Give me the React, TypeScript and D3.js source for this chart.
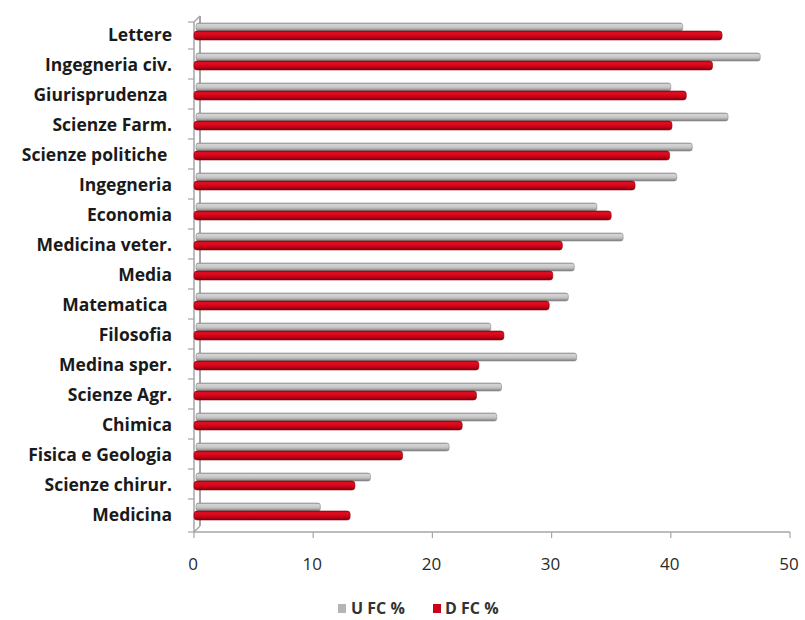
import React from 'react';
import * as d3 from 'd3';

const categories = [
  'Lettere', 'Ingegneria civ.', 'Giurisprudenza ', 'Scienze Farm.', 'Scienze politiche ',
  'Ingegneria', 'Economia', 'Medicina veter.', 'Media', 'Matematica ', 'Filosofia',
  'Medina sper.', 'Scienze Agr.', 'Chimica', 'Fisica e Geologia', 'Scienze chirur.', 'Medicina',
];
const uValues = [41.0, 47.5, 40.0, 44.8, 41.8, 40.5, 33.8, 36.0, 31.9, 31.4, 24.9, 32.1, 25.8, 25.4, 21.4, 14.8, 10.6];
const dValues = [44.3, 43.5, 41.3, 40.1, 39.9, 37.0, 35.0, 30.9, 30.1, 29.8, 26.0, 23.9, 23.7, 22.5, 17.5, 13.5, 13.1];
const xTicks = [0, 10, 20, 30, 40, 50];
const seriesNames = ['U FC %', 'D FC %'];

const W = 805;
const H = 620;
const FONT = "'Open Sans', sans-serif";

export default function App() {
  const x = d3.scaleLinear().domain([0, 50]).range([194, 790]);
  const y = d3.scaleBand<string>().domain(categories).range([19, 529]);
  const bw = y.bandwidth();

  return (
    <svg width={W} height={H} style={{ position: 'absolute', left: 0, top: 0, background: '#fff' }}>
      <defs>
        <linearGradient id="gGray" x1="0" y1="0" x2="0" y2="1">
          <stop offset="0" stopColor="#9a9a9a" />
          <stop offset="0.2" stopColor="#d6d6d6" />
          <stop offset="0.6" stopColor="#c2c2c2" />
          <stop offset="1" stopColor="#7a7a7a" />
        </linearGradient>
        <linearGradient id="gRed" x1="0" y1="0" x2="0" y2="1">
          <stop offset="0" stopColor="#a8000e" />
          <stop offset="0.2" stopColor="#e2101f" />
          <stop offset="0.6" stopColor="#d0001a" />
          <stop offset="1" stopColor="#7a0008" />
        </linearGradient>
      </defs>

      {/* back wall */}
      <line x1={200} x2={200} y1={16} y2={526} stroke="#a6a6a6" strokeWidth={2} />
      <line x1={194} x2={200} y1={22} y2={16} stroke="#a6a6a6" strokeWidth={1.5} />
      <line x1={194} x2={200} y1={532} y2={526} stroke="#a6a6a6" strokeWidth={1.5} />
      {/* left axis */}
      <line x1={194} x2={194} y1={22} y2={532} stroke="#a6a6a6" strokeWidth={1.5} />
      {categories.map((c, i) => (
        <line key={'yt' + i} x1={188} x2={194} y1={(y(c) as number) + (i === 0 ? 3 : 0)} y2={(y(c) as number) + (i === 0 ? 3 : 0)} stroke="#a6a6a6" strokeWidth={1.2} />
      ))}
      <line x1={188} x2={194} y1={532} y2={532} stroke="#a6a6a6" strokeWidth={1.2} />
      {/* bottom axis */}
      <line x1={194} x2={790} y1={532} y2={532} stroke="#a6a6a6" strokeWidth={1.5} />
      {xTicks.map(t => (
        <g key={'xt' + t}>
          <line x1={x(t)} x2={x(t)} y1={532} y2={538} stroke="#a6a6a6" strokeWidth={1.2} />
          <text x={x(t) - 1} y={570} textAnchor="middle" fontFamily={FONT} fontWeight={500} fontSize={17} fill="#2a2a2a">{t}</text>
        </g>
      ))}

      {/* bars */}
      {categories.map((c, i) => {
        const top = y(c) as number;
        return (
          <g key={c}>
            <rect x={x(0) + 2} y={top + 4} width={x(uValues[i]) - x(0) - 2} height={8} rx={2.5}
              fill="url(#gGray)" stroke="#8a8a8a" strokeWidth={0.6} />
            <rect x={x(0)} y={top + 12} width={x(dValues[i]) - x(0)} height={9} rx={3}
              fill="url(#gRed)" stroke="#8c0a10" strokeWidth={0.6} />
            <text x={172} y={top + bw / 2 + 7} textAnchor="end" fontFamily={FONT} fontWeight={700}
              fontSize={17.5} fill="#1a1a1a" style={{ whiteSpace: 'pre' }}>{c}</text>
          </g>
        );
      })}

      {/* legend */}
      <rect x={338} y={604} width={8} height={9} fill="#b5b5b5" />
      <text x={351} y={614} fontFamily={FONT} fontWeight={700} fontSize={16} fill="#333">{seriesNames[0]}</text>
      <rect x={433} y={604} width={8} height={9} fill="#cc0018" />
      <text x={445} y={614} fontFamily={FONT} fontWeight={700} fontSize={16} fill="#333">{seriesNames[1]}</text>
    </svg>
  );
}
